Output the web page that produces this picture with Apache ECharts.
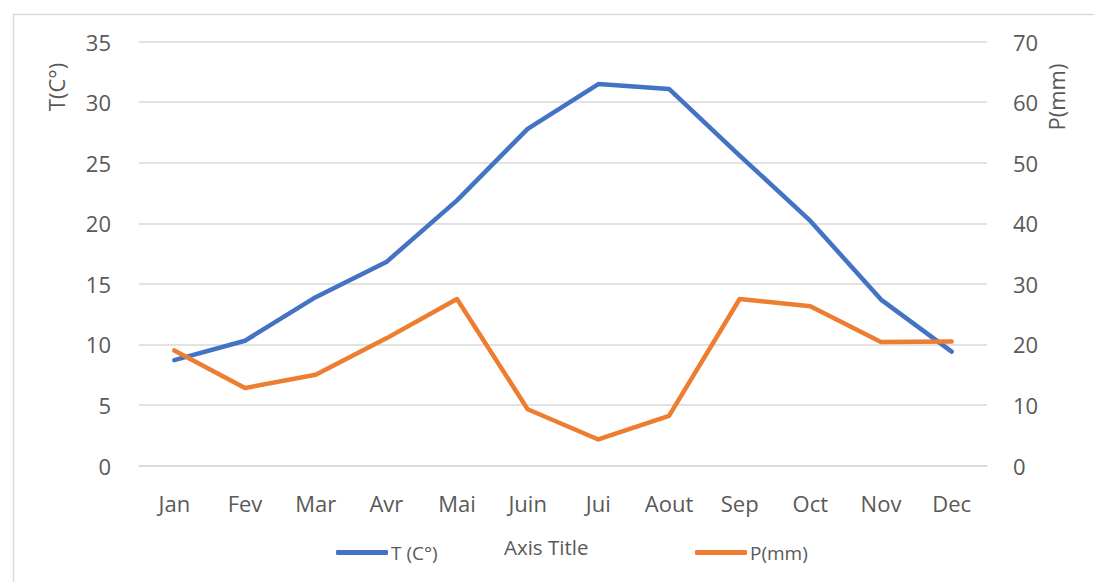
<!DOCTYPE html>
<html>
<head>
<meta charset="utf-8">
<script src="https://cdn.jsdelivr.net/npm/echarts@6/dist/echarts.min.js"></script>
<style>
html,body{margin:0;padding:0;background:#fff;}
#chart{width:1094px;height:582px;}
</style>
</head>
<body>
<div id="chart"></div>
<script>
const months = ['Jan','Fev','Mar','Avr','Mai','Juin','Jui','Aout','Sep','Oct','Nov','Dec'];
const tempValues = [8.7, 10.3, 13.9, 16.8, 21.9, 27.8, 31.5, 31.1, 25.6, 20.2, 13.7, 9.4];
const precipValues = [19.0, 12.8, 15.0, 21.0, 27.5, 9.3, 4.3, 8.2, 27.5, 26.3, 20.4, 20.5];
const tempName = 'T (C°)';
const precipName = 'P(mm)';
const leftAxisTitle = 'T(C°)';
const rightAxisTitle = 'P(mm)';
const xAxisTitle = 'Axis Title';

const FONT = '"Open Sans", "Noto Sans", sans-serif';
const TXT = '#595959';
const GRID = '#d9d9d9';

const chart = echarts.init(document.getElementById('chart'), null, {renderer: 'svg'});
chart.setOption({
  animation: false,
  backgroundColor: '#fff',
  textStyle: {fontFamily: FONT, color: TXT},
  grid: {left: 139, right: 107, top: 41.7, bottom: 116.5, containLabel: false},
  title: {
    text: xAxisTitle,
    left: 499, top: 531,
    textStyle: {fontFamily: FONT, fontSize: 20.5, fontWeight: 'normal', color: TXT}
  },
  legend: [
    {
      data: [tempName], left: 331, top: 538,
      icon: 'roundRect', itemWidth: 52, itemHeight: 5, itemGap: 0,
      textStyle: {fontFamily: FONT, fontSize: 19, color: TXT, padding: [0,0,0,-2]}
    },
    {
      data: [precipName], left: 690, top: 538,
      icon: 'roundRect', itemWidth: 52, itemHeight: 5, itemGap: 0,
      textStyle: {fontFamily: FONT, fontSize: 19, color: TXT, padding: [0,0,0,-2]}
    }
  ],
  graphic: [
    {type: 'rect', left: 11, top: 12, shape: {width: 1200, height: 700},
     style: {fill: 'none', stroke: GRID, lineWidth: 1.5}, silent: true, z: -10},
    {type: 'text', x: 56, y: 87, rotation: Math.PI/2,
     style: {text: leftAxisTitle, font: '22px ' + FONT, fill: TXT, textAlign: 'center', textVerticalAlign: 'middle'}},
    {type: 'text', x: 1056, y: 97, rotation: Math.PI/2,
     style: {text: rightAxisTitle, font: '22px ' + FONT, fill: TXT, textAlign: 'center', textVerticalAlign: 'middle'}}
  ],
  xAxis: {
    type: 'category',
    data: months,
    boundaryGap: true,
    axisLine: {show: true, lineStyle: {color: GRID, width: 1.5}},
    axisTick: {show: false},
    axisLabel: {fontFamily: FONT, fontSize: 22, color: TXT, margin: 26, interval: 0}
  },
  yAxis: [
    {
      type: 'value', min: 0, max: 35, interval: 5,
      axisLine: {show: false}, axisTick: {show: false},
      splitLine: {show: true, lineStyle: {color: GRID, width: 1.5}},
      axisLabel: {fontFamily: FONT, fontSize: 22, color: TXT, margin: 28}
    },
    {
      type: 'value', min: 0, max: 70, interval: 10,
      axisLine: {show: false}, axisTick: {show: false},
      splitLine: {show: false},
      axisLabel: {fontFamily: FONT, fontSize: 22, color: TXT, margin: 26}
    }
  ],
  series: [
    {
      name: tempName, type: 'line', data: tempValues, yAxisIndex: 0,
      showSymbol: false, symbol: 'none',
      lineStyle: {color: '#4472C4', width: 4.5, cap: 'round', join: 'round'},
      itemStyle: {color: '#4472C4'}
    },
    {
      name: precipName, type: 'line', data: precipValues, yAxisIndex: 1,
      showSymbol: false, symbol: 'none',
      lineStyle: {color: '#ED7D31', width: 4.5, cap: 'round', join: 'round'},
      itemStyle: {color: '#ED7D31'}
    }
  ]
});
</script>
</body>
</html>
